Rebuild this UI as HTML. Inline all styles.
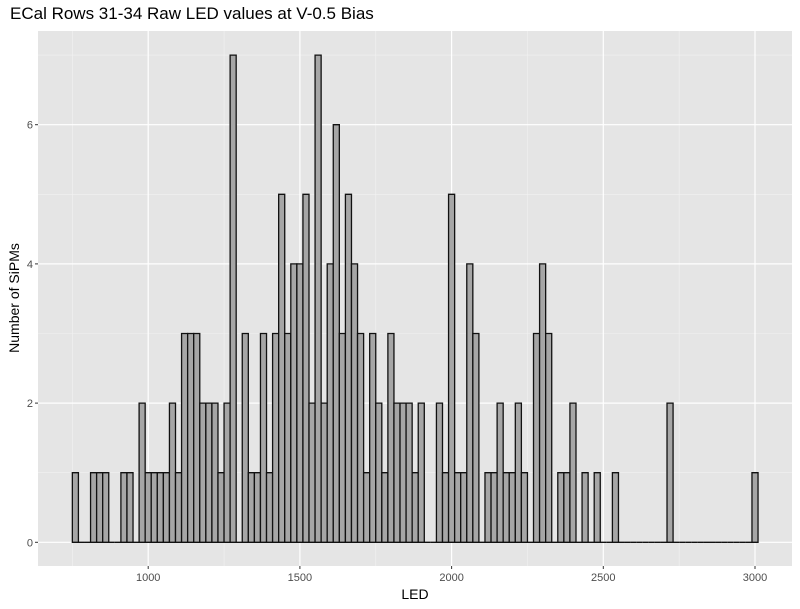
<!DOCTYPE html>
<html><head><meta charset="utf-8"><style>
body{margin:0;background:#fff;}
svg{display:block;font-family:"Liberation Sans",Arial,sans-serif;}
</style></head><body>
<svg id="chart" width="800" height="609">
<text x="10" y="19" font-size="17" fill="#000">ECal Rows 31-34 Raw LED values at V-0.5 Bias</text>
<rect x="38" y="31" width="754" height="535" fill="#e5e5e5"/>
<g id="grid"></g>
<g id="bars"></g>
<g id="axes"></g>
<text x="415" y="599" font-size="14" text-anchor="middle">LED</text>
<text x="0" y="0" font-size="14" text-anchor="middle" transform="translate(19,298) rotate(-90)">Number of SiPMs</text>
</svg>
<script>
const binStart = 760;
const binWidth = 20;
const counts = [1,0,0,1,1,1,0,0,1,1,0,2,1,1,1,1,2,1,3,3,3,2,2,2,1,2,7,0,3,1,1,3,1,3,5,3,4,4,5,2,7,2,4,6,3,5,4,3,1,3,2,1,3,2,2,2,1,2,0,0,2,1,5,1,1,4,3,0,1,1,2,1,1,2,1,0,3,4,3,0,1,1,2,0,1,0,1,0,0,1,0,0,0,0,0,0,0,0,2,0,0,0,0,0,0,0,0,0,0,0,0,0,1];
const xTicks = [1000,1500,2000,2500,3000];
const xMinor = [750,1250,1750,2250,2750];
const yTicks = [0,2,4,6];
const yMinor = [1,3,5,7];
const NS='http://www.w3.org/2000/svg';
const X0=38,X1=792,Y0=31,Y1=566;
function sx(v){return 148.2+(v-1000)*0.3034;}
function sy(c){return 542.3-c*69.6;}
function mk(tag,attrs,parent){const e=document.createElementNS(NS,tag);for(const k in attrs)e.setAttribute(k,attrs[k]);parent.appendChild(e);return e;}
const grid=document.getElementById('grid'),bars=document.getElementById('bars'),axes=document.getElementById('axes');
xMinor.forEach(v=>{const l=mk('line',{x1:sx(v),x2:sx(v),y1:Y0,y2:Y1,stroke:'#f2f2f2','stroke-width':0.6},grid);

});
yMinor.forEach(v=>{const l=mk('line',{x1:X0,x2:X1,y1:sy(v),y2:sy(v),stroke:'#f2f2f2','stroke-width':0.6},grid);

});
xTicks.forEach(v=>{const l=mk('line',{x1:sx(v),x2:sx(v),y1:Y0,y2:Y1,stroke:'#fff','stroke-width':1.2},grid);


const t=mk('line',{x1:sx(v),x2:sx(v),y1:Y1,y2:Y1+3,stroke:'#333','stroke-width':1},axes);


const tx=mk('text',{x:sx(v),y:Y1+15,'font-size':11,'text-anchor':'middle',fill:'#4d4d4d'},axes);tx.textContent=v;

});
yTicks.forEach(v=>{const l=mk('line',{x1:X0,x2:X1,y1:sy(v),y2:sy(v),stroke:'#fff','stroke-width':1.2},grid);


const t=mk('line',{x1:X0-3,x2:X0,y1:sy(v),y2:sy(v),stroke:'#333','stroke-width':1},axes);


const tx=mk('text',{x:X0-5,y:sy(v)+4,'font-size':11,'text-anchor':'end',fill:'#4d4d4d'},axes);tx.textContent=v;

});
counts.forEach((c,i)=>{const lo=binStart+binWidth*(i-0.5),hi=lo+binWidth;
const a=sx(lo),b=sx(hi),top=sy(c),base=sy(0);
const r=mk('path',{d:`M${a},${base}L${a},${top}L${b},${top}L${b},${base}Z`,fill:'#a6a6a6',stroke:'#111','stroke-width':1.3},bars);

});
</script>
</body></html>
